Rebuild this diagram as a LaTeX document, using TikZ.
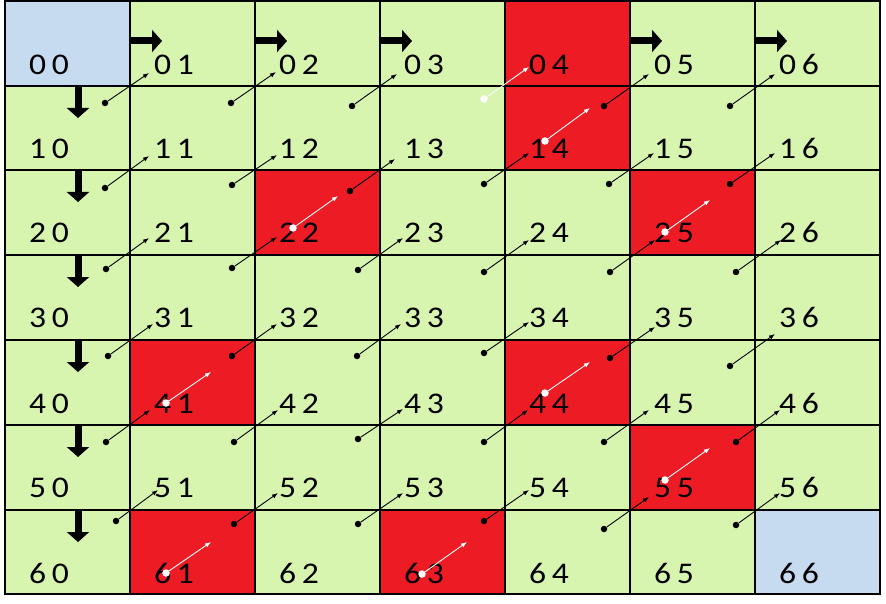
\documentclass[tikz,border=0pt]{standalone}
\usepackage{fontspec}
\setmainfont{Carlito}
\newfontfamily\cellfont[FakeStretch=1.12,WordSpace=0.75]{Carlito}
\usetikzlibrary{arrows.meta}

\newlength{\du}
\setlength{\du}{1pt}

\begin{document}
\begin{tikzpicture}[
  lbl/.style={anchor=base west, inner sep=0pt, font=\cellfont\fontsize{30}{36}\selectfont},
  gridline/.style={draw=black, line width=1.2\du},
  blackdot/.style={circle, fill=black, inner sep=0pt, minimum size=6.5\du},
  whitedot/.style={circle, fill=white, inner sep=0pt, minimum size=7.5\du},
  nb/.style={draw=black, line width=0.9\du, -{Latex[length=6pt,width=4.5pt]}},
  nw/.style={draw=white, line width=0.9\du, -{Latex[length=6pt,width=4.5pt]}},
  bigarrow/.style={draw=black, line width=7\du, -{Triangle[length=10pt,width=22pt]}}
]
\pgftransformxscale{1.000000}
\pgftransformyscale{-1.000000}
\definecolor{cellgreen}{RGB}{216,245,176}
\definecolor{cellblue}{RGB}{198,218,240}
\definecolor{cellred}{RGB}{237,28,36}

\useasboundingbox (0\du,0\du) rectangle (886\du,604\du);

% cells
\fill[cellgreen] (5\du,1\du) rectangle (880\du,594\du);
\fill[cellblue] (5\du,1\du) rectangle (130\du,86\du);
\fill[cellblue] (755\du,510\du) rectangle (880\du,594\du);
\fill[cellred] (505\du,1\du) rectangle (630\du,86\du);
\fill[cellred] (505\du,86\du) rectangle (630\du,170\du);
\fill[cellred] (255\du,170\du) rectangle (380\du,255\du);
\fill[cellred] (630\du,170\du) rectangle (755\du,255\du);
\fill[cellred] (130\du,340\du) rectangle (255\du,425\du);
\fill[cellred] (505\du,340\du) rectangle (630\du,425\du);
\fill[cellred] (630\du,425\du) rectangle (755\du,510\du);
\fill[cellred] (130\du,510\du) rectangle (255\du,594\du);
\fill[cellred] (380\du,510\du) rectangle (505\du,594\du);

\draw[gridline] (5\du,1\du) rectangle (880\du,594\du);
\draw[gridline] (130\du,1\du)--(130\du,594\du);
\draw[gridline] (255\du,1\du)--(255\du,594\du);
\draw[gridline] (380\du,1\du)--(380\du,594\du);
\draw[gridline] (505\du,1\du)--(505\du,594\du);
\draw[gridline] (630\du,1\du)--(630\du,594\du);
\draw[gridline] (755\du,1\du)--(755\du,594\du);
\draw[gridline] (5\du,86\du)--(880\du,86\du);
\draw[gridline] (5\du,170\du)--(880\du,170\du);
\draw[gridline] (5\du,255\du)--(880\du,255\du);
\draw[gridline] (5\du,340\du)--(880\du,340\du);
\draw[gridline] (5\du,425\du)--(880\du,425\du);
\draw[gridline] (5\du,510\du)--(880\du,510\du);

% big arrows
\draw[bigarrow] (130\du,41\du)--(162\du,41\du);
\draw[bigarrow] (255\du,41\du)--(287\du,41\du);
\draw[bigarrow] (380\du,41\du)--(412\du,41\du);
\draw[bigarrow] (630\du,41\du)--(662\du,41\du);
\draw[bigarrow] (755\du,41\du)--(787\du,41\du);
\draw[bigarrow] (78\du,87\du)--(78\du,118\du);
\draw[bigarrow] (78\du,171\du)--(78\du,202\du);
\draw[bigarrow] (78\du,256\du)--(78\du,287\du);
\draw[bigarrow] (78\du,341\du)--(78\du,372\du);
\draw[bigarrow] (78\du,426\du)--(78\du,457\du);
\draw[bigarrow] (78\du,511\du)--(78\du,542\du);

% labels
\node[lbl] (l00) at (29\du,75\du){0 0};
\node[lbl] (l01) at (154\du,75\du){0 1};
\node[lbl] (l02) at (279\du,75\du){0 2};
\node[lbl] (l03) at (404\du,75\du){0 3};
\node[lbl] (l04) at (529\du,75\du){0 4};
\node[lbl] (l05) at (654\du,75\du){0 5};
\node[lbl] (l06) at (779\du,75\du){0 6};
\node[lbl] (l10) at (29\du,159\du){1 0};
\node[lbl] (l11) at (154\du,159\du){1 1};
\node[lbl] (l12) at (279\du,159\du){1 2};
\node[lbl] (l13) at (404\du,159\du){1 3};
\node[lbl] (l14) at (529\du,159\du){1 4};
\node[lbl] (l15) at (654\du,159\du){1 5};
\node[lbl] (l16) at (779\du,159\du){1 6};
\node[lbl] (l20) at (29\du,243\du){2 0};
\node[lbl] (l21) at (154\du,243\du){2 1};
\node[lbl] (l22) at (279\du,243\du){2 2};
\node[lbl] (l23) at (404\du,243\du){2 3};
\node[lbl] (l24) at (529\du,243\du){2 4};
\node[lbl] (l25) at (654\du,243\du){2 5};
\node[lbl] (l26) at (779\du,243\du){2 6};
\node[lbl] (l30) at (29\du,327\du){3 0};
\node[lbl] (l31) at (154\du,327\du){3 1};
\node[lbl] (l32) at (279\du,327\du){3 2};
\node[lbl] (l33) at (404\du,327\du){3 3};
\node[lbl] (l34) at (529\du,327\du){3 4};
\node[lbl] (l35) at (654\du,327\du){3 5};
\node[lbl] (l36) at (779\du,327\du){3 6};
\node[lbl] (l40) at (29\du,413\du){4 0};
\node[lbl] (l41) at (154\du,413\du){4 1};
\node[lbl] (l42) at (279\du,413\du){4 2};
\node[lbl] (l43) at (404\du,413\du){4 3};
\node[lbl] (l44) at (529\du,413\du){4 4};
\node[lbl] (l45) at (654\du,413\du){4 5};
\node[lbl] (l46) at (779\du,413\du){4 6};
\node[lbl] (l50) at (29\du,497\du){5 0};
\node[lbl] (l51) at (154\du,497\du){5 1};
\node[lbl] (l52) at (279\du,497\du){5 2};
\node[lbl] (l53) at (404\du,497\du){5 3};
\node[lbl] (l54) at (529\du,497\du){5 4};
\node[lbl] (l55) at (654\du,497\du){5 5};
\node[lbl] (l56) at (779\du,497\du){5 6};
\node[lbl] (l60) at (29\du,583\du){6 0};
\node[lbl] (l61) at (154\du,583\du){6 1};
\node[lbl] (l62) at (279\du,583\du){6 2};
\node[lbl] (l63) at (404\du,583\du){6 3};
\node[lbl] (l64) at (529\du,583\du){6 4};
\node[lbl] (l65) at (654\du,583\du){6 5};
\node[lbl] (l66) at (779\du,583\du){6 6};

% small arrows, dot in a cell to the label up and right
\node[blackdot] (d10) at (105\du,103\du){}; \coordinate (t01) at (149\du,73\du); \draw[nb] (d10)--(t01);
\node[blackdot] (d11) at (231\du,103\du){}; \coordinate (t02) at (276\du,72\du); \draw[nb] (d11)--(t02);
\node[blackdot] (d12) at (352\du,106\du){}; \coordinate (t03) at (397\du,74\du); \draw[nb] (d12)--(t03);
\node[whitedot] (d13) at (484\du,99\du){}; \coordinate (t04) at (529\du,67\du); \draw[nw] (d13)--(t04);
\node[blackdot] (d14) at (604\du,106\du){}; \coordinate (t05) at (649\du,74\du); \draw[nb] (d14)--(t05);
\node[blackdot] (d15) at (730\du,106\du){}; \coordinate (t06) at (775\du,74\du); \draw[nb] (d15)--(t06);

\node[blackdot] (d20) at (105\du,188\du){}; \coordinate (t11) at (149\du,156\du); \draw[nb] (d20)--(t11);
\node[blackdot] (d21) at (232\du,185\du){}; \coordinate (t12) at (277\du,155\du); \draw[nb] (d21)--(t12);
\node[blackdot] (d22) at (350\du,191\du){}; \coordinate (t13) at (395\du,159\du); \draw[nb] (d22)--(t13);
\node[blackdot] (d23) at (484\du,184\du){}; \coordinate (t14) at (529\du,153\du); \draw[nb] (d23)--(t14);
\node[blackdot] (d24) at (609\du,184\du){}; \coordinate (t15) at (654\du,153\du); \draw[nb] (d24)--(t15);
\node[blackdot] (d25) at (730\du,184\du){}; \coordinate (t16) at (775\du,153\du); \draw[nb] (d25)--(t16);

\node[blackdot] (d30) at (106\du,269\du){}; \coordinate (t21) at (149\du,238\du); \draw[nb] (d30)--(t21);
\node[blackdot] (d31) at (232\du,268\du){}; \coordinate (t22) at (277\du,237\du); \draw[nb] (d31)--(t22);
\node[blackdot] (d32) at (358\du,270\du){}; \coordinate (t23) at (403\du,238\du); \draw[nb] (d32)--(t23);
\node[blackdot] (d33) at (484\du,272\du){}; \coordinate (t24) at (529\du,240\du); \draw[nb] (d33)--(t24);
\node[blackdot] (d34) at (610\du,272\du){}; \coordinate (t25) at (655\du,240\du); \draw[nb] (d34)--(t25);
\node[blackdot] (d35) at (736\du,272\du){}; \coordinate (t26) at (781\du,240\du); \draw[nb] (d35)--(t26);

\node[blackdot] (d40) at (108\du,356\du){}; \coordinate (t31) at (153\du,324\du); \draw[nb] (d40)--(t31);
\node[blackdot] (d41) at (232\du,356\du){}; \coordinate (t32) at (277\du,324\du); \draw[nb] (d41)--(t32);
\node[blackdot] (d42) at (357\du,356\du){}; \coordinate (t33) at (401\du,324\du); \draw[nb] (d42)--(t33);
\node[blackdot] (d43) at (484\du,353\du){}; \coordinate (t34) at (529\du,322\du); \draw[nb] (d43)--(t34);
\node[blackdot] (d44) at (610\du,358\du){}; \coordinate (t35) at (655\du,327\du); \draw[nb] (d44)--(t35);
\node[blackdot] (d45) at (730\du,366\du){}; \coordinate (t36) at (775\du,334\du); \draw[nb] (d45)--(t36);

\node[blackdot] (d50) at (106\du,442\du){}; \coordinate (t41) at (150\du,410\du); \draw[nb] (d50)--(t41);
\node[blackdot] (d51) at (234\du,442\du){}; \coordinate (t42) at (278\du,410\du); \draw[nb] (d51)--(t42);
\node[blackdot] (d52) at (358\du,439\du){}; \coordinate (t43) at (403\du,409\du); \draw[nb] (d52)--(t43);
\node[blackdot] (d53) at (484\du,442\du){}; \coordinate (t44) at (528\du,410\du); \draw[nb] (d53)--(t44);
\node[blackdot] (d54) at (604\du,442\du){}; \coordinate (t45) at (649\du,410\du); \draw[nb] (d54)--(t45);
\node[blackdot] (d55) at (736\du,442\du){}; \coordinate (t46) at (780\du,410\du); \draw[nb] (d55)--(t46);

\node[blackdot] (d60) at (116\du,521\du){}; \coordinate (t51) at (158\du,490\du); \draw[nb] (d60)--(t51);
\node[blackdot] (d61) at (234\du,524\du){}; \coordinate (t52) at (278\du,493\du); \draw[nb] (d61)--(t52);
\node[blackdot] (d62) at (358\du,524\du){}; \coordinate (t53) at (403\du,493\du); \draw[nb] (d62)--(t53);
\node[blackdot] (d63) at (484\du,521\du){}; \coordinate (t54) at (529\du,490\du); \draw[nb] (d63)--(t54);
\node[blackdot] (d64) at (604\du,529\du){}; \coordinate (t55) at (649\du,497\du); \draw[nb] (d64)--(t55);
\node[blackdot] (d65) at (736\du,525\du){}; \coordinate (t56) at (780\du,493\du); \draw[nb] (d65)--(t56);

% white arrows in the red cells
\node[whitedot] (w14) at (545\du,141\du){}; \coordinate (v14) at (590\du,108\du); \draw[nw] (w14)--(v14);
\node[whitedot] (w22) at (293\du,228\du){}; \coordinate (v22) at (338\du,196\du); \draw[nw] (w22)--(v22);
\node[whitedot] (w25) at (665\du,232\du){}; \coordinate (v25) at (710\du,200\du); \draw[nw] (w25)--(v25);
\node[whitedot] (w41) at (166\du,403\du){}; \coordinate (v41) at (211\du,372\du); \draw[nw] (w41)--(v41);
\node[whitedot] (w44) at (545\du,393\du){}; \coordinate (v44) at (590\du,362\du); \draw[nw] (w44)--(v44);
\node[whitedot] (w55) at (665\du,480\du){}; \coordinate (v55) at (710\du,448\du); \draw[nw] (w55)--(v55);
\node[whitedot] (w61) at (166\du,573\du){}; \coordinate (v61) at (211\du,542\du); \draw[nw] (w61)--(v61);
\node[whitedot] (w63) at (422\du,574\du){}; \coordinate (v63) at (467\du,542\du); \draw[nw] (w63)--(v63);
\end{tikzpicture}
\end{document}
